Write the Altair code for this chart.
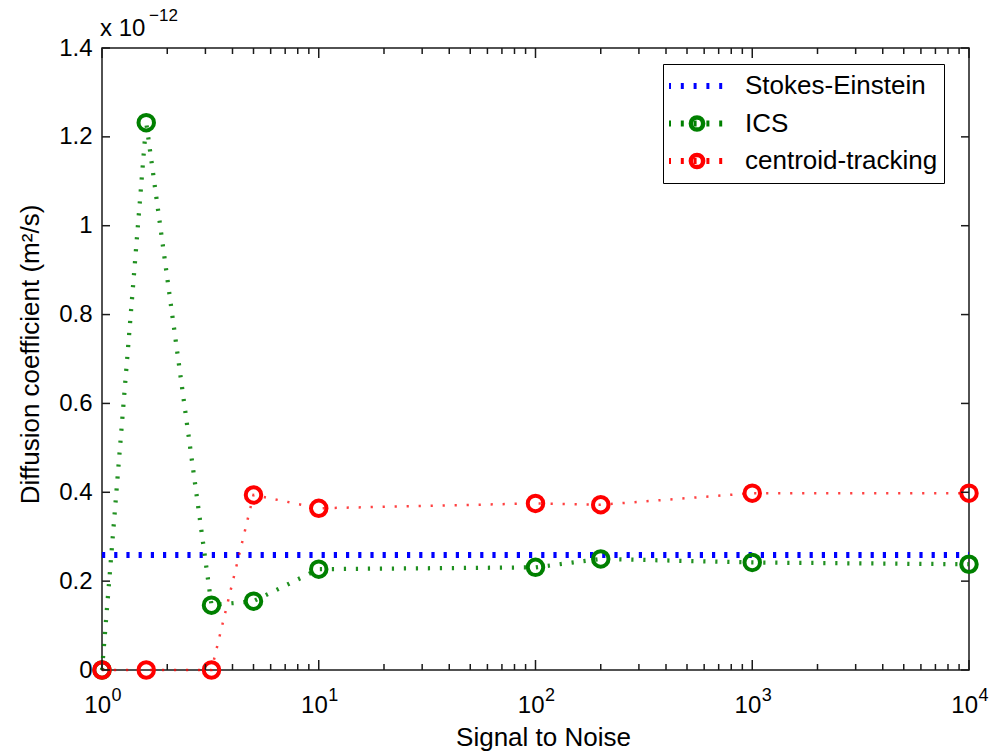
import altair as alt
import pandas as pd

# Signal-to-noise ratios at which each method was evaluated
snr = [1, 1.6, 3.2, 5, 10, 100, 200, 1000, 10000]
# Diffusion coefficients, in units of 1e-12 m^2/s
ics = [0.0, 1.232, 0.146, 0.155, 0.227, 0.231, 0.250, 0.242, 0.238]
centroid = [0.0, 0.0, 0.0, 0.394, 0.364, 0.375, 0.372, 0.398, 0.398]
stokes_einstein = 0.259
stokes_span = [1, 10000]

series_names = ["Stokes-Einstein", "ICS", "centroid-tracking"]
series_colors = ["#0000ff", "#008000", "#ff0000"]

y_tick_values = [0, 0.2, 0.4, 0.6, 0.8, 1, 1.2, 1.4]
x_decades = [1, 10, 100, 1000, 10000]
x_exponents = ["0", "1", "2", "3", "4"]
x_minor = [m * d for d in [1, 10, 100, 1000] for m in range(2, 10)]

FONT = "Liberation Sans"
W, H = 867, 622

lines_df = pd.concat([
    pd.DataFrame({"snr": stokes_span, "D": [stokes_einstein] * 2, "series": series_names[0]}),
    pd.DataFrame({"snr": snr, "D": ics, "series": series_names[1]}),
    pd.DataFrame({"snr": snr, "D": centroid, "series": series_names[2]}),
], ignore_index=True)

points_df = pd.concat([
    pd.DataFrame({"snr": snr, "D": ics, "series": series_names[1]}),
    pd.DataFrame({"snr": snr, "D": centroid, "series": series_names[2]}),
], ignore_index=True)

xscale = alt.Scale(type="log", domain=[1, 10000], nice=False)
yscale = alt.Scale(domain=[0, 1.4], nice=False, zero=False)

# One axis definition shared by every layer so that the merged axes agree
x_axis = alt.Axis(labels=False, ticks=False, domain=False, grid=False,
                  title="Signal to Noise", titleFont=FONT, titleFontSize=26,
                  titleFontWeight="normal", titleColor="black",
                  titleX=441, titleY=75, titleBaseline="alphabetic")
y_axis = alt.Axis(values=y_tick_values, format="~g", ticks=False, domain=False, grid=False,
                  labelFont=FONT, labelFontSize=24, labelColor="black", labelPadding=10,
                  labelOverlap=False, labelFlush=False,
                  title="Diffusion coefficient (m²/s)", titleFont=FONT, titleFontSize=26,
                  titleFontWeight="normal", titleColor="black", titleAngle=270,
                  titleX=-64, titleY=306, titleAlign="center", titleBaseline="alphabetic")


def X(field="snr:Q"):
    return alt.X(field, scale=xscale, axis=x_axis)


def Y(field="D:Q"):
    return alt.Y(field, scale=yscale, axis=y_axis)


legend_common = dict(title=None, orient="none", direction="vertical", legendY=16,
                     padding=6, rowPadding=5.5, clipHeight=32,
                     labelFont=FONT, labelFontSize=26, labelLimit=400, symbolOpacity=1)

lines = alt.Chart(lines_df).mark_line(clip=False).encode(
    x=X(), y=Y(),
    color=alt.Color("series:N", scale=alt.Scale(domain=series_names, range=series_colors),
                    legend=alt.Legend(legendX=561, symbolOffset=-4, symbolType="stroke",
                                      symbolSize=4096, symbolStrokeWidth=6, symbolDash=[3, 9.8],
                                      labelColor="black", labelOffset=10,
                                      strokeColor="black", **legend_common)),
    strokeWidth=alt.StrokeWidth("series:N", scale=alt.Scale(domain=series_names, range=[6, 2.5, 2.5]), legend=None),
    strokeDash=alt.StrokeDash("series:N", scale=alt.Scale(domain=series_names,
                              range=[[3.2, 9], [2.2, 9.8], [2.2, 9.8]]), legend=None),
    opacity=alt.Opacity("series:N", scale=alt.Scale(domain=series_names, range=[1, 0.75, 0.6]), legend=None),
)

# Circle markers; their legend sits over the line legend and carries no labels
points = alt.Chart(points_df).mark_point(filled=False, shape="circle", size=240,
                                         strokeWidth=4, opacity=1, clip=False).encode(
    x=X(), y=Y(),
    color=alt.Color("series:N",
                    scale=alt.Scale(domain=series_names, range=["rgba(0,0,0,0)", "#008000", "#ff0000"]),
                    legend=alt.Legend(legendX=576, symbolType="circle", symbolSize=150,
                                      symbolStrokeWidth=4.5, labelExpr="''", **legend_common)),
)

# Inward-facing ticks on all four sides of the frame
major_df = pd.DataFrame({"v": x_decades, "e": x_exponents})
minor_df = pd.DataFrame({"v": x_minor})
ytick_df = pd.DataFrame({"v": y_tick_values})
tick_style = dict(color="#1a1a1a", strokeWidth=1.5)


def xticks(df, y0, y1):
    return alt.Chart(df).mark_rule(**tick_style).encode(
        x=X("v:Q"), y=alt.value(y0), y2=alt.value(y1))


def yticks(x0, x1):
    return alt.Chart(ytick_df).mark_rule(**tick_style).encode(
        y=Y("v:Q"), x=alt.value(x0), x2=alt.value(x1))


ticks = [
    xticks(major_df, H, H - 10), xticks(major_df, 0, 10),
    xticks(minor_df, H, H - 6), xticks(minor_df, 0, 6),
    yticks(0, 8), yticks(W, W - 8),
]

# Decade labels as "10" with a raised exponent
base_labels = alt.Chart(major_df).mark_text(text="10", font=FONT, fontSize=24, align="right",
                                            baseline="alphabetic", dx=9, color="black").encode(
    x=X("v:Q"), y=alt.value(H + 43))
exp_labels = alt.Chart(major_df).mark_text(font=FONT, fontSize=18, align="left",
                                           baseline="alphabetic", dx=9.5, color="black").encode(
    x=X("v:Q"), y=alt.value(H + 31), text="e:N")

# Common multiplier of the y axis
mult_df = pd.DataFrame({"base": ["x 10"], "power": ["−12"]})
mult_base = alt.Chart(mult_df).mark_text(font=FONT, fontSize=24, align="left",
                                         baseline="alphabetic", color="black").encode(
    x=alt.value(-2), y=alt.value(-12), text="base:N")
mult_power = alt.Chart(mult_df).mark_text(font=FONT, fontSize=17, align="left",
                                          baseline="alphabetic", color="black").encode(
    x=alt.value(47), y=alt.value(-27), text="power:N")

chart = alt.layer(
    lines, points, *ticks, base_labels, exp_labels, mult_base, mult_power
).resolve_scale(color="independent").properties(
    width=W, height=H,
    padding={"left": 102, "top": 48, "right": 23, "bottom": 85},
    autosize=alt.AutoSizeParams(type="none"),
    background="white",
).configure(font=FONT).configure_view(stroke="#1a1a1a", strokeWidth=1.5)

chart.save("out.html", embed_options={"renderer": "svg", "actions": False})
